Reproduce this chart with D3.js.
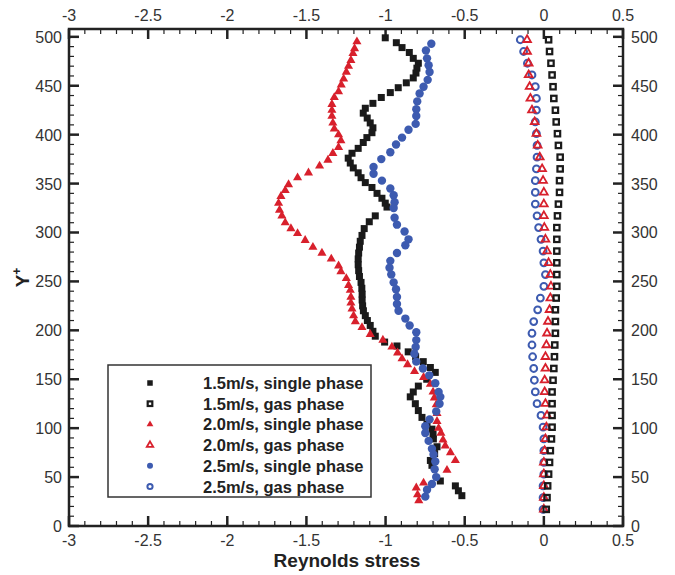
<!DOCTYPE html>
<html>
<head>
<meta charset="utf-8">
<script src="https://cdn.jsdelivr.net/npm/d3@7"></script>
<style>
  body { margin: 0; background: #fff; }
  text { font-family: "Liberation Sans", Arial, sans-serif; }
</style>
</head>
<body>
<svg class="chart"></svg>
<script>
// data: [Reynolds stress, Y+]
var single15 = [
  [-1.002,499],[-0.932,494],[-0.896,489],[-0.850,484],[-0.825,478],[-0.793,473],[-0.802,468],[-0.808,463],
  [-0.825,458],[-0.869,453],[-0.920,448],[-0.970,443],[-1.027,438],[-1.080,432],[-1.128,427],[-1.141,422],
  [-1.116,417],[-1.097,412],[-1.080,407],[-1.086,402],[-1.118,397],[-1.141,392],[-1.173,386],[-1.212,381],
  [-1.236,376],[-1.223,371],[-1.204,366],[-1.173,361],[-1.155,356],[-1.128,351],[-1.086,346],[-1.054,340],
  [-1.023,335],[-1.002,330],[-0.991,326],[-1.065,317],[-1.103,311],[-1.135,304],[-1.149,297],[-1.160,291],
  [-1.165,285],[-1.170,279],[-1.173,273],[-1.173,267],[-1.170,261],[-1.165,255],[-1.155,249],[-1.150,243],
  [-1.148,237],[-1.148,231],[-1.145,225],[-1.140,220],[-1.128,215],[-1.115,210],[-1.097,205],[-1.080,199],
  [-1.065,194],[-1.006,188],[-0.928,184],[-0.857,178],[-0.810,173],[-0.762,168],[-0.717,162],[-0.686,157],
  [-0.740,150],[-0.793,143],[-0.825,137],[-0.844,132],[-0.812,125],[-0.793,118],[-0.770,111],[-0.738,104],
  [-0.707,99],[-0.700,94],[-0.698,89],[-0.675,81],[-0.690,74],[-0.717,67],[-0.707,62],[-0.654,46],
  [-0.559,41],[-0.540,36],[-0.518,31]
];
var single20 = [
  [-1.181,495],[-1.196,488],[-1.206,483],[-1.219,476],[-1.234,470],[-1.248,464],[-1.265,457],[-1.280,451],
  [-1.297,444],[-1.324,438],[-1.339,431],[-1.339,425],[-1.339,419],[-1.333,412],[-1.324,406],[-1.297,400],
  [-1.282,394],[-1.297,387],[-1.333,381],[-1.364,374],[-1.417,368],[-1.487,361],[-1.556,356],[-1.613,349],
  [-1.634,343],[-1.661,337],[-1.676,330],[-1.670,323],[-1.655,317],[-1.634,310],[-1.598,304],[-1.556,299],
  [-1.508,292],[-1.459,285],[-1.402,279],[-1.343,273],[-1.297,266],[-1.282,260],[-1.248,253],[-1.234,246],
  [-1.223,241],[-1.219,234],[-1.219,228],[-1.212,222],[-1.202,215],[-1.191,209],[-1.149,203],[-1.097,196],
  [-1.017,190],[-0.960,183],[-0.924,177],[-0.896,171],[-0.861,165],[-0.817,158],[-0.760,152],[-0.717,145],
  [-0.700,137],[-0.692,131],[-0.680,124],[-0.675,115],[-0.675,107],[-0.665,100],[-0.650,95],[-0.637,88],
  [-0.623,82],[-0.590,75],[-0.559,67],[-0.612,57],[-0.760,44],[-0.806,39],[-0.798,32],[-0.790,26]
];
var single25 = [
  [-0.711,493],[-0.745,486],[-0.738,478],[-0.728,471],[-0.722,464],[-0.734,456],[-0.760,449],[-0.785,442],
  [-0.800,434],[-0.806,426],[-0.806,419],[-0.810,411],[-0.855,405],[-0.896,397],[-0.934,390],[-0.970,382],
  [-1.027,375],[-1.076,367],[-1.076,360],[-1.023,353],[-0.970,345],[-0.949,338],[-0.943,331],[-0.949,325],
  [-0.943,315],[-0.928,308],[-0.880,301],[-0.855,293],[-0.875,287],[-0.928,279],[-0.970,271],[-0.975,264],
  [-0.964,257],[-0.949,249],[-0.934,242],[-0.928,234],[-0.928,227],[-0.918,220],[-0.875,212],[-0.848,205],
  [-0.806,198],[-0.806,190],[-0.810,183],[-0.818,176],[-0.806,168],[-0.764,161],[-0.724,154],[-0.686,146],
  [-0.665,137],[-0.654,132],[-0.659,125],[-0.680,117],[-0.722,109],[-0.749,102],[-0.749,95],[-0.728,87],
  [-0.707,79],[-0.697,73],[-0.686,66],[-0.690,58],[-0.680,50],[-0.707,43],[-0.738,37],[-0.749,30]
];

// gas phase series share the same Y+ positions
var gasY = d3.range(497, 16, -12);
var gas15 = [0.030,0.036,0.045,0.052,0.058,0.063,0.073,0.078,0.086,0.092,0.103,0.103,0.099,0.099,
  0.092,0.086,0.082,0.082,0.082,0.082,0.082,0.082,0.078,0.073,0.073,0.073,0.069,0.067,0.063,0.058,
  0.052,0.052,0.052,0.052,0.048,0.041,0.036,0.030,0.024,0.020,0.015];
var gas20 = [-0.106,-0.106,-0.096,-0.096,-0.090,-0.085,-0.075,-0.058,-0.047,-0.039,-0.026,-0.011,
  -0.005,0.000,0.000,0.000,0.003,0.010,0.020,0.030,0.041,0.045,0.041,0.036,0.026,0.020,0.016,0.010,
  0.010,0.005,0.005,0.010,0.020,0.016,0.010,0.005,0.000,0.000,0.000,0.000,0.000];
var gas25 = [-0.149,-0.128,-0.104,-0.075,-0.054,-0.047,-0.047,-0.054,-0.047,-0.043,-0.043,-0.047,
  -0.054,-0.054,-0.054,-0.043,-0.033,-0.018,-0.005,0.000,0.010,0.000,-0.022,-0.039,-0.064,-0.075,
  -0.075,-0.071,-0.064,-0.060,-0.054,-0.043,-0.018,-0.005,0.000,0.000,0.000,0.000,-0.005,-0.005,-0.005];

var legendLabels = ["1.5m/s, single phase", "1.5m/s, gas phase", "2.0m/s, single phase",
  "2.0m/s, gas phase", "2.5m/s, single phase", "2.5m/s, gas phase"];
var xTicks = [-3, -2.5, -2, -1.5, -1, -0.5, 0, 0.5];
var yTicks = [0, 50, 100, 150, 200, 250, 300, 350, 400, 450, 500];

function show() {
    'use strict';
    var W = 675, H = 575;
    var left = 69, right = 623, top = 29, bottom = 526;
    var black = "#1a1a1a", red = "#d8202c", blue = "#3d5bb0", axisCol = "#222";

    var svg = d3.select(".chart").attr("width", W).attr("height", H);

    var x = d3.scaleLinear().domain([-3, 0.5]).range([left, right]);
    var y = d3.scaleLinear().domain([0, 508]).range([bottom, top]);

    // frame
    svg.append("rect")
        .attr("x", left).attr("y", top)
        .attr("width", right - left).attr("height", bottom - top)
        .attr("fill", "none").attr("stroke", axisCol).attr("stroke-width", 2.5);

    var g = svg.append("g");

    // ticks pointing inward on all four sides
    var xMinor = d3.range(-3, 0.5001, 0.1).filter(function (v) { return Math.abs(v * 2 - Math.round(v * 2)) > 1e-6; });
    var yMinor = d3.range(0, 508, 10).filter(function (v) { return v % 50 !== 0; });

    function xt(vals, len, sw) {
        g.selectAll(null).data(vals).enter().append("line")
            .attr("x1", function (d) { return x(d); }).attr("x2", function (d) { return x(d); })
            .attr("y1", bottom).attr("y2", bottom - len)
            .attr("stroke", axisCol).attr("stroke-width", sw);
        g.selectAll(null).data(vals).enter().append("line")
            .attr("x1", function (d) { return x(d); }).attr("x2", function (d) { return x(d); })
            .attr("y1", top).attr("y2", top + len)
            .attr("stroke", axisCol).attr("stroke-width", sw);
    }
    function yt(vals, len, sw) {
        g.selectAll(null).data(vals).enter().append("line")
            .attr("y1", function (d) { return y(d); }).attr("y2", function (d) { return y(d); })
            .attr("x1", left).attr("x2", left + len)
            .attr("stroke", axisCol).attr("stroke-width", sw);
        g.selectAll(null).data(vals).enter().append("line")
            .attr("y1", function (d) { return y(d); }).attr("y2", function (d) { return y(d); })
            .attr("x1", right).attr("x2", right - len)
            .attr("stroke", axisCol).attr("stroke-width", sw);
    }
    xt(xMinor, 5, 1.2);
    xt(xTicks, 10, 2.5);
    yt(yMinor, 5, 1.2);
    yt(yTicks, 10, 2.5);

    // tick labels
    var lab = svg.append("g").attr("font-size", 16).attr("fill", "#333");
    lab.selectAll(null).data(xTicks).enter().append("text")
        .attr("x", function (d) { return x(d); }).attr("y", bottom + 20)
        .attr("text-anchor", "middle").text(function (d) { return d; });
    lab.selectAll(null).data(xTicks).enter().append("text")
        .attr("x", function (d) { return x(d); }).attr("y", top - 8)
        .attr("text-anchor", "middle").text(function (d) { return d; });
    lab.selectAll(null).data(yTicks).enter().append("text")
        .attr("x", left - 7).attr("y", function (d) { return y(d) + 6; })
        .attr("text-anchor", "end").text(function (d) { return d; });
    lab.selectAll(null).data(yTicks).enter().append("text")
        .attr("x", right + 8).attr("y", function (d) { return y(d) + 6; })
        .attr("text-anchor", "start").text(function (d) { return d; });

    // axis titles
    svg.append("text")
        .attr("x", 347).attr("y", 567)
        .attr("text-anchor", "middle").attr("font-size", 19).attr("font-weight", "bold")
        .attr("fill", "#222").text("Reynolds stress");
    var yl = svg.append("text")
        .attr("transform", "translate(29," + y(254) + ") rotate(-90)")
        .attr("text-anchor", "middle").attr("font-size", 19).attr("font-weight", "bold")
        .attr("fill", "#222");
    yl.append("tspan").text("Y");
    yl.append("tspan").attr("font-size", 12).attr("dy", -8).text("+");

    // markers
    function marker(sel, kind, col, s) {
        if (kind === "sq") {
            sel.append("rect").attr("x", -s / 2).attr("y", -s / 2).attr("width", s).attr("height", s)
                .attr("fill", col);
        } else if (kind === "osq") {
            sel.append("rect").attr("x", -s / 2).attr("y", -s / 2).attr("width", s).attr("height", s)
                .attr("fill", "none").attr("stroke", col).attr("stroke-width", 2.2);
        } else if (kind === "tri") {
            sel.append("path").attr("d", d3.symbol().type(d3.symbolTriangle).size(s)())
                .attr("fill", col);
        } else if (kind === "otri") {
            sel.append("path").attr("d", d3.symbol().type(d3.symbolTriangle).size(s)())
                .attr("fill", "none").attr("stroke", col).attr("stroke-width", 1.8);
        } else if (kind === "dot") {
            sel.append("circle").attr("r", s).attr("fill", col);
        } else {
            sel.append("circle").attr("r", s).attr("fill", "none")
                .attr("stroke", col).attr("stroke-width", 2);
        }
    }
    function plot(pts, kind, col, s) {
        var sel = svg.append("g").selectAll("g").data(pts).enter().append("g")
            .attr("transform", function (d) { return "translate(" + x(d[0]) + "," + y(d[1]) + ")"; });
        marker(sel, kind, col, s);
    }
    function zip(xs) { return xs.map(function (v, i) { return [v, gasY[i]]; }); }

    plot(single15, "sq", black, 7);
    plot(single20, "tri", red, 36);
    plot(single25, "dot", blue, 4.2);
    plot(zip(gas25), "odot", blue, 3.4);
    plot(zip(gas20), "otri", red, 26);
    plot(zip(gas15), "osq", black, 5.4);

    // legend
    var kinds = [["sq", black, 5.5], ["osq", black, 4.6], ["tri", red, 20], ["otri", red, 18],
                 ["dot", blue, 3], ["odot", blue, 2.6]];
    var lg = svg.append("g");
    lg.append("rect").attr("x", 108).attr("y", 365).attr("width", 263).attr("height", 132)
        .attr("fill", "#fff").attr("stroke", "#333").attr("stroke-width", 1.5);
    var rows = lg.selectAll("g").data(legendLabels).enter().append("g")
        .attr("transform", function (d, i) { return "translate(150," + (383 + i * 20.7) + ")"; });
    rows.each(function (d, i) {
        marker(d3.select(this), kinds[i][0], kinds[i][1], kinds[i][2]);
    });
    rows.append("text").attr("x", 53).attr("y", 6)
        .attr("font-size", 16.5).attr("font-weight", "bold").attr("fill", "#222")
        .text(function (d) { return d; });
}
show();
</script>
</body>
</html>
